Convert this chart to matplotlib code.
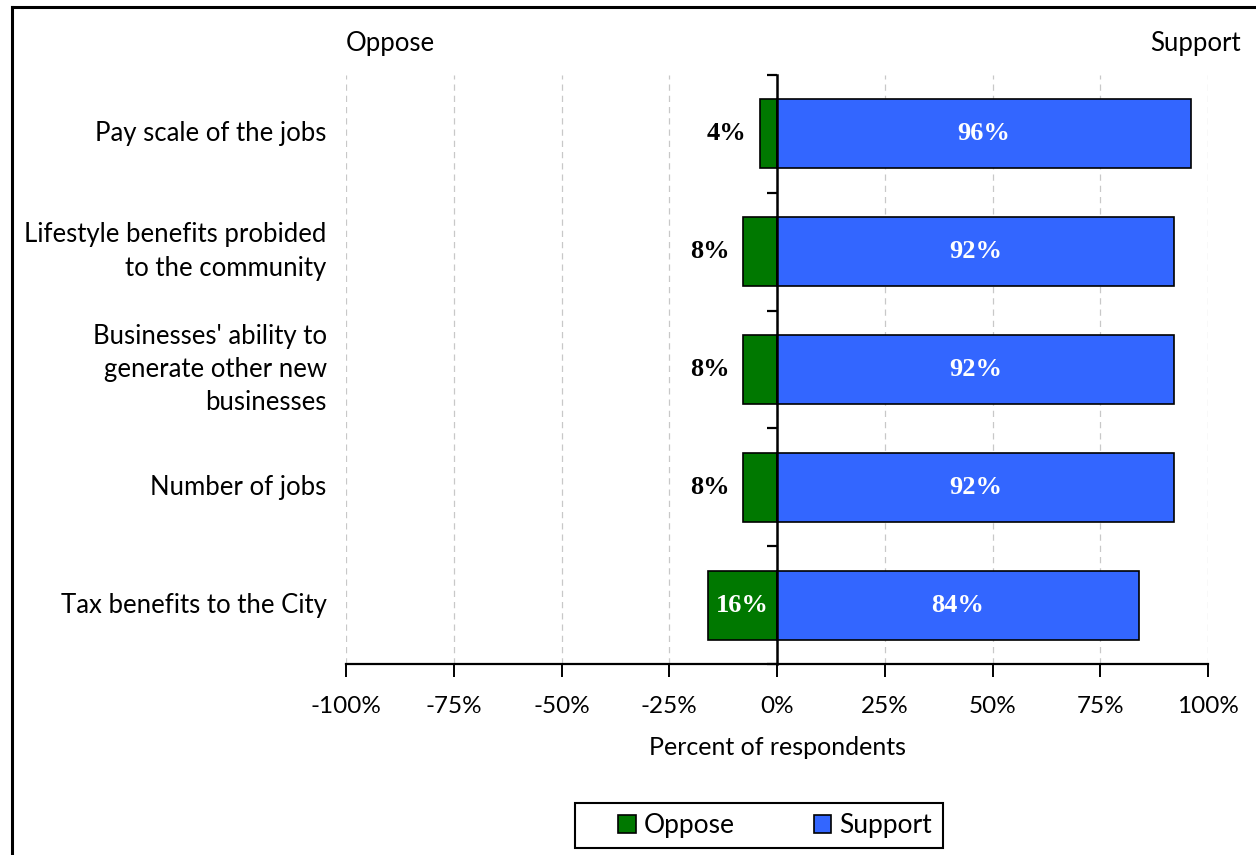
import numpy as np
import matplotlib.pyplot as plt
from matplotlib.patches import Rectangle, Patch
from matplotlib.lines import Line2D

# survey results, top to bottom
categories = ["Pay scale of the jobs",
              "Lifestyle benefits probided\nto the community",
              "Businesses' ability to\ngenerate other new\nbusinesses",
              "Number of jobs",
              "Tax benefits to the City"]
oppose = [4, 8, 8, 8, 16]
support = [96, 92, 92, 92, 84]
xticks = [-100, -75, -50, -25, 0, 25, 50, 75, 100]

green = '#007800'
blue = '#3366FF'
sans = 'Lato'
serif = 'Liberation Serif'

fig = plt.figure(figsize=(12.56, 8.55), dpi=100)
ax = fig.add_axes([0.2755, 0.2234, 0.6863, 0.6889])

y = np.arange(len(categories))
h = 0.586
ax.barh(y, [-v for v in oppose], height=h, color=green, edgecolor='black', linewidth=1.2, zorder=3)
ax.barh(y, support, height=h, color=blue, edgecolor='black', linewidth=1.2, zorder=3)

# value labels
for yi, o, s in zip(y, oppose, support):
    ax.text(s / 2, yi, f"{s}%", ha='center', va='center', color='white',
            fontsize=19, fontweight='bold', family=serif, zorder=5)
    if o >= 12:
        ax.text(-o / 2, yi, f"{o}%", ha='center', va='center', color='white',
                fontsize=19, fontweight='bold', family=serif, zorder=5)
    else:
        ax.text(-o - 3.0, yi, f"{o}%", ha='right', va='center', color='black',
                fontsize=19, fontweight='bold', family=serif, zorder=5)

ax.set_xlim(-100, 100)
ax.set_ylim(len(categories) - 0.5, -0.5)
ax.set_xticks(xticks)
ax.set_xticklabels([f"{t}%" for t in xticks], family=sans, fontsize=17.5)
ax.xaxis.grid(True, linestyle=(0, (5, 4)), color='#c8c8c8', linewidth=0.9, zorder=0)

# vertical axis sits on 0, ticks mark category boundaries
ax.spines['left'].set_position(('data', 0))
ax.spines['left'].set_linewidth(1.8)
ax.spines['left'].set_zorder(6)
ax.spines['bottom'].set_linewidth(1.6)
ax.spines['top'].set_visible(False)
ax.spines['right'].set_visible(False)
ax.set_yticks(np.arange(-0.5, len(categories), 1.0))
ax.set_yticklabels([])
ax.tick_params(axis='y', direction='out', length=7, width=1.6)
ax.tick_params(axis='x', direction='out', length=9, width=1.4, pad=14)

for yi, c in zip(y, categories):
    ax.text(-104.5, yi, c, ha='right', va='center', family=sans, fontsize=18.5,
            linespacing=1.42)

ax.text(-100, -0.5 - 0.27, "Oppose", ha='left', va='center', family=sans, fontsize=18.5)
ax.text(107.5, -0.5 - 0.27, "Support", ha='right', va='center', family=sans, fontsize=18.5,
        clip_on=False)
ax.set_xlabel("Percent of respondents", family=sans, fontsize=18, labelpad=14)

# legend box drawn separately so it can be wider than the entries
leg = fig.legend(handles=[Patch(facecolor=green, edgecolor='black', linewidth=1.2, label='Oppose'),
                          Patch(facecolor=blue, edgecolor='black', linewidth=1.2, label='Support')],
                 loc='center', bbox_to_anchor=(0.617, 0.0345), ncol=2, frameon=False,
                 prop={'family': sans, 'size': 19}, handlelength=0.65,
                 handleheight=0.65, handletextpad=0.3, columnspacing=3.0)
fig.patches.append(Rectangle((575 / 1256, 1 - 848 / 855), 368 / 1256, 45 / 855,
                             transform=fig.transFigure, fill=False,
                             edgecolor='black', linewidth=1.5))

# outer frame around the chart
for xs, ys in [((12 / 1256, 12 / 1256), (0, 1 - 7 / 855)),
               ((12 / 1256, 1), (1 - 7 / 855, 1 - 7 / 855))]:
    fig.add_artist(Line2D(xs, ys, transform=fig.transFigure, color='black', linewidth=2.2))

fig.savefig("out.png", dpi=100)
